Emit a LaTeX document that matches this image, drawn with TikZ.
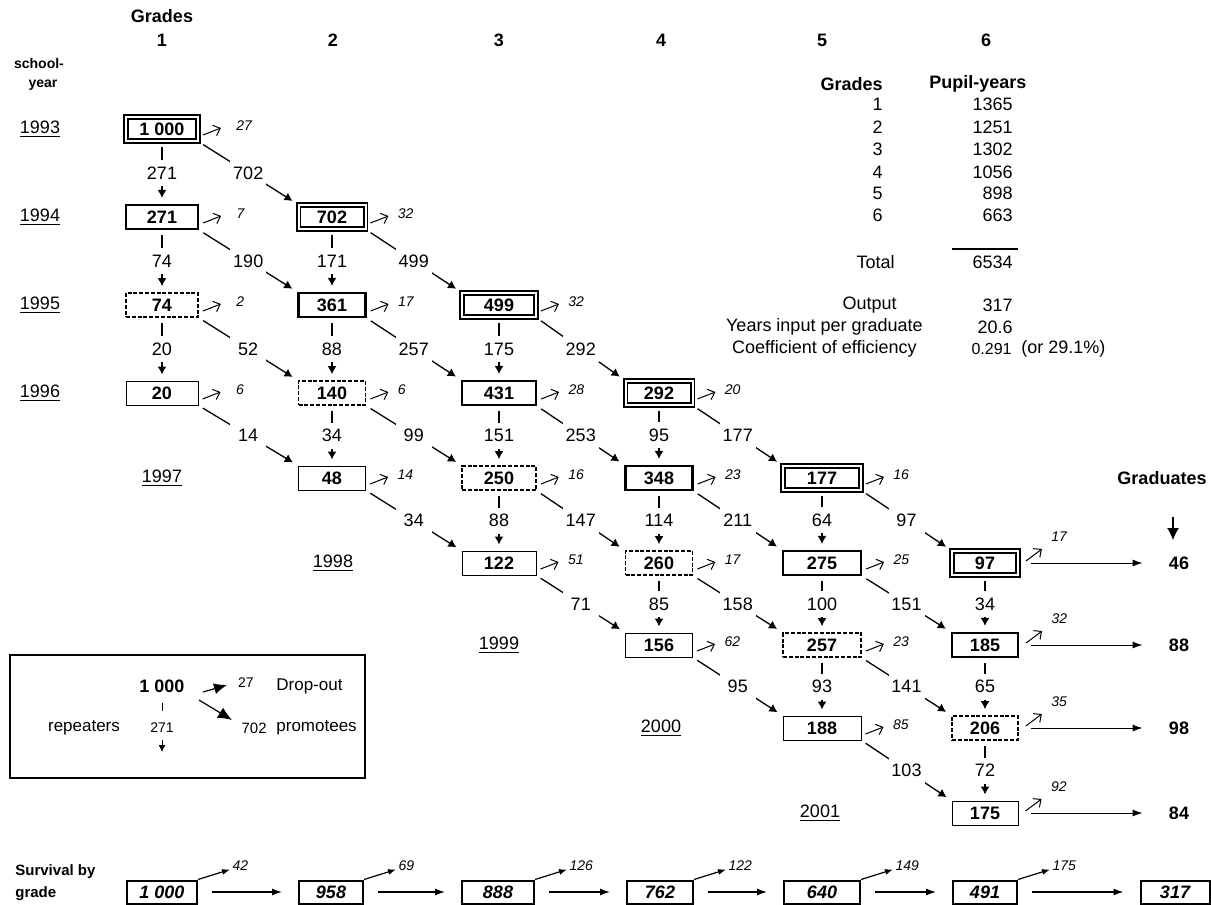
\documentclass[tikz,border=0pt]{standalone}
\usepackage{fontspec}
\setmainfont{Liberation Sans}
\usetikzlibrary{arrows.meta}

\tikzset{
  txt/.style={inner sep=0pt, font=\fontsize{9}{11}\selectfont},
  btxt/.style={inner sep=0pt, font=\bfseries\fontsize{9}{11}\selectfont},
  smalltxt/.style={inner sep=0pt, font=\fontsize{7}{8}\selectfont},
  legtxt/.style={inner sep=0pt, font=\fontsize{8.5}{10}\selectfont},
  pbox/.style={draw, inner sep=0pt, minimum height=12pt, font=\bfseries\fontsize{9}{11}\selectfont},
  firstbox/.style={pbox, double, line width=0.9pt, double distance=1pt},
  repbox/.style={pbox, line width=1.1pt},
  dashbox/.style={pbox, line width=0.85pt, dash pattern=on 2pt off 0.9pt},
  lastbox/.style={pbox, line width=0.5pt},
  c1/.style={minimum width=36pt}, c2/.style={minimum width=33.5pt},
  c3/.style={minimum width=37pt}, c4/.style={minimum width=33.5pt},
  c5/.style={minimum width=39pt}, c6/.style={minimum width=33pt},
  flow/.style={line width=0.65pt, -{Latex[length=4pt,width=4.5pt]}, shorten <=2.5pt, shorten >=3pt},
  flowlab/.style={fill=white, inner sep=0pt, minimum width=18pt, minimum height=13pt, font=\fontsize{9}{11}\selectfont},
  drop/.style={line width=0.5pt, -{Straight Barb[length=3pt,width=5.5pt]}},
  droplab/.style={anchor=west, inner sep=0pt, xshift=4.5pt, yshift=1pt, font=\itshape\fontsize{7}{8}\selectfont},
  gradarr/.style={line width=0.5pt, -{Latex[length=5pt,width=3.5pt]}, shorten <=6pt, shorten >=13pt},
  survbox/.style={draw, line width=1pt, inner sep=0pt, minimum height=11.5pt, font=\bfseries\itshape\fontsize{9}{11}\selectfont},
  survarr/.style={line width=0.6pt, -{Latex[length=5pt,width=3.5pt]}, shorten <=7pt, shorten >=8pt},
  survdrop/.style={line width=0.6pt, -{Latex[length=4pt,width=3pt]}},
  survlab/.style={anchor=west, inner sep=0pt, xshift=1pt, yshift=2pt, font=\itshape\fontsize{7}{8}\selectfont}
}

\begin{document}
\begin{tikzpicture}[x=0.5pt,y=-0.5pt]
\useasboundingbox (0,0) rectangle (1211,905);

%% 表头
\node[btxt] (grades) at (162,16) {Grades};
\foreach \g/\x in {1/162,2/333,3/499,4/661,5/822,6/986}
  \node[btxt] (gh\g) at (\x,40) {\g};
\node[inner sep=0pt, font=\bfseries\fontsize{7}{8}\selectfont] (sy1) at (39,63) {school-};
\node[inner sep=0pt, font=\bfseries\fontsize{7}{8}\selectfont] (sy2) at (43,85) {year};

%% 学年
\foreach \yy/\x/\y in {1993/40/129,1994/40/217,1995/40/305,1996/40/393,1997/162/478,1998/333/563,1999/499/645,2000/661/728,2001/820/813}
  \node[txt] (y\yy) at (\x,\y) {\underline{\yy}};

%% 方框
\node[firstbox,c1] (b11) at (162,129) {1 000};
\node[repbox,c1]   (b12) at (162,217) {271};
\node[dashbox,c1]  (b13) at (162,305) {74};
\node[lastbox,c1]  (b14) at (162,393) {20};
\node[firstbox,c2] (b21) at (332,217) {702};
\node[repbox,c2]   (b22) at (332,305) {361};
\node[dashbox,c2]  (b23) at (332,393) {140};
\node[lastbox,c2]  (b24) at (332,478) {48};
\node[firstbox,c3] (b31) at (499,305) {499};
\node[repbox,c3]   (b32) at (499,393) {431};
\node[dashbox,c3]  (b33) at (499,478) {250};
\node[lastbox,c3]  (b34) at (499,563) {122};
\node[firstbox,c4] (b41) at (659,393) {292};
\node[repbox,c4]   (b42) at (659,478) {348};
\node[dashbox,c4]  (b43) at (659,563) {260};
\node[lastbox,c4]  (b44) at (659,645) {156};
\node[firstbox,c5] (b51) at (822,478) {177};
\node[repbox,c5]   (b52) at (822,563) {275};
\node[dashbox,c5]  (b53) at (822,645) {257};
\node[lastbox,c5]  (b54) at (822,728) {188};
\node[firstbox,c6] (b61) at (985,563) {97};
\node[repbox,c6]   (b62) at (985,645) {185};
\node[dashbox,c6]  (b63) at (985,728) {206};
\node[lastbox,c6]  (b64) at (985,813) {175};

%% 留级（竖直）
\foreach \a/\b/\v in {b11/b12/271,b12/b13/74,b13/b14/20,b21/b22/171,b22/b23/88,b23/b24/34,
    b31/b32/175,b32/b33/151,b33/b34/88,b41/b42/95,b42/b43/114,b43/b44/85,
    b51/b52/64,b52/b53/100,b53/b54/93,b61/b62/34,b62/b63/65,b63/b64/72}
  \draw[flow] (\a) -- node[flowlab] {\v} (\b);

%% 升级（斜线）
\foreach \a/\b/\v in {b11/b21/702,b12/b22/190,b13/b23/52,b14/b24/14,
    b21/b31/499,b22/b32/257,b23/b33/99,b24/b34/34,
    b31/b41/292,b32/b42/253,b33/b43/147,b34/b44/71,
    b41/b51/177,b42/b52/211,b43/b53/158,b44/b54/95,
    b51/b61/97,b52/b62/151,b53/b63/141,b54/b64/103}
  \draw[flow] (\a.south east) -- node[flowlab] {\v} (\b.north west);

%% 辍学
\foreach \n/\v in {b11/27,b12/7,b13/2,b14/6}
  \draw[drop] ([shift={(4,6)}]\n.east) -- ([shift={(22,-1)}]\n.east) node[droplab, xshift=3pt] {\v};
\foreach \n/\v in {b21/32,b22/17,b23/6,b24/14,
    b31/32,b32/28,b33/16,b34/51,b41/20,b42/23,b43/17,b44/62,
    b51/16,b52/25,b53/23,b54/85}
  \draw[drop] ([shift={(4,6)}]\n.east) -- ([shift={(22,-1)}]\n.east) node[droplab] {\v};

%% 毕业
\coordinate (gcol) at (1179,0);
\foreach \n/\v/\gv in {b61/17/46,b62/32/88,b63/35/98,b64/92/84}{
  \draw[drop] ([shift={(7,-2)}]\n.east) -- ([shift={(23,-14)}]\n.east) node[droplab, yshift=5pt] {\v};
  \node[btxt] (g\gv) at (\n -| gcol) {\gv};
  \draw[gradarr] (\n) -- (g\gv);
}
\node[btxt] (gradhead) at (1162,478) {Graduates};
\coordinate (gdown) at (1173,517);
\draw[line width=0.6pt, -{Latex[length=6pt,width=6pt]}] (gdown) -- ++(0,23);

%% 右上表
\node[btxt, anchor=east] (tgr) at (883,84) {Grades};
\node[btxt, anchor=west] (tpy) at (929,84) {Pupil-years};
\foreach \g/\p/\y in {1/1365/104,2/1251/127,3/1302/149,4/1056/172,5/898/193,6/663/215}{
  \node[txt, anchor=east] (tg\g) at (883,\y) {\g};
  \node[txt, anchor=east] (tp\g) at (1013,\y) {\p};
}
\draw[line width=1pt] (952,249) -- (1018,249);
\node[txt, anchor=east] (ttot)  at (895,262) {Total};
\node[txt, anchor=east] (ttotv) at (1013,262) {6534};
\node[txt, anchor=east] (tout)  at (897,305) {Output};
\node[txt, anchor=east] (toutv) at (1013,305) {317};
\node[txt, anchor=east] (tyrs)  at (923,327) {Years input per graduate};
\node[txt, anchor=east] (tyrsv) at (1013,327) {20.6};
\node[txt, anchor=east] (tcoef) at (917,349) {Coefficient of efficiency};
\node[inner sep=0pt, anchor=east, font=\fontsize{8}{9}\selectfont] (tcoefv) at (1012,349) {0.291};
\node[txt, anchor=west] (tpct) at (1021,349) {(or 29.1\%)};

%% 图例
\draw[line width=1pt] (10,655) rectangle (365,778);
\node[btxt] (l1000) at (162,686) {1 000};
\node[smalltxt] (l27) at (246,683) {27};
\node[legtxt, anchor=west] (ldrop) at (276,686) {Drop-out};
\node[smalltxt, font=\fontsize{7.5}{9}\selectfont, anchor=east] (l702) at (267,728) {702};
\node[legtxt, anchor=west] (lprom) at (276,728) {promotees};
\node[legtxt] (lrep) at (84,728) {repeaters};
\node[smalltxt] (l271) at (162,728) {271};
\draw[line width=0.5pt] ([yshift=-8.5pt]l1000.center) -- +(0,8);
\draw[line width=0.5pt, -{Latex[length=3.5pt,width=3.5pt]}] ([yshift=-6pt]l271.center) -- +(0,12);
\draw[line width=0.6pt, -{Latex[length=6.5pt,width=5.5pt]}] ([shift={(41,6)}]l1000.center) -- ([shift={(-19,2)}]l27.center);
\draw[line width=0.6pt, -{Latex[length=7pt,width=6pt]}] ([shift={(37,14)}]l1000.center) -- ([shift={(-35,-8)}]l702.east);

%% 按年级的存活
\node[inner sep=0pt, anchor=west, font=\bfseries\fontsize{7.5}{9}\selectfont] (surv1) at (15,872) {Survival by};
\node[inner sep=0pt, anchor=west, font=\bfseries\fontsize{7.5}{9}\selectfont] (surv2) at (15,894) {grade};
\foreach \i/\x/\w/\v in {1/162/35/{1 000},2/331/32/958,3/498/36/888,4/660/33/762,5/822/38/640,6/985/32/491,7/1175/34.5/317}
  \node[survbox, minimum width=\w pt] (s\i) at (\x,892) {\v};
\foreach \a/\b in {s1/s2,s2/s3,s3/s4,s4/s5,s5/s6,s6/s7}
  \draw[survarr] (\a) -- (\b);
\foreach \n/\v in {s1/42,s2/69,s3/126,s4/122,s5/149,s6/175}
  \draw[survdrop] (\n.north east) -- ([shift={(32,-10)}]\n.north east) node[survlab] {\v};

\end{tikzpicture}
\end{document}
